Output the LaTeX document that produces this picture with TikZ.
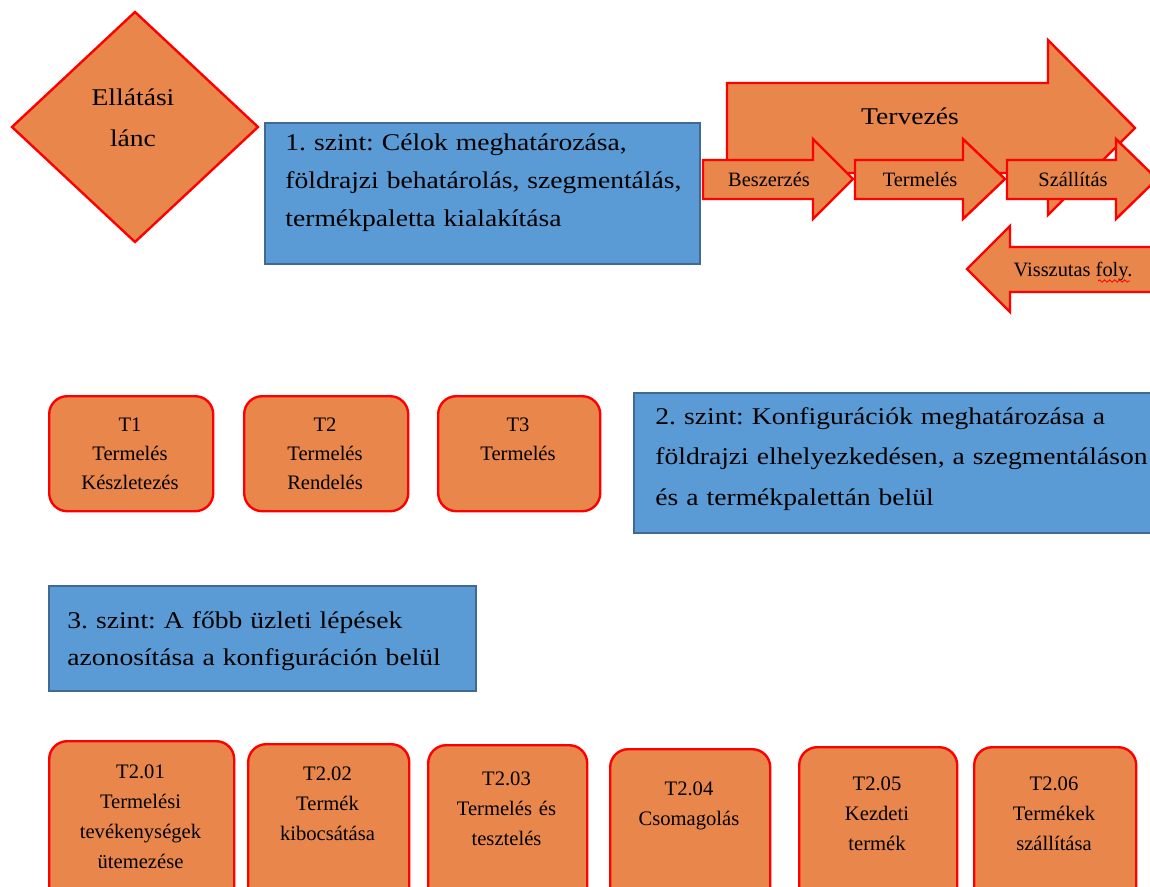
\documentclass[tikz,border=0pt]{standalone}
\usepackage{fontspec}
\setmainfont{Liberation Serif}
\newfontfamily\wideserif{Liberation Serif}[FakeStretch=1.15]
\usepackage{tikz}
\usetikzlibrary{decorations.pathmorphing}
\usepackage{xcolor}
\definecolor{boxorange}{RGB}{233,134,76}
\definecolor{boxred}{RGB}{255,0,0}
\definecolor{lvlblue}{RGB}{91,155,213}
\definecolor{lvledge}{RGB}{65,105,145}
\frenchspacing

\begin{document}
\begin{tikzpicture}[x=0.5pt, y=-0.5pt,
  tbox/.style={draw=boxred, fill=boxorange, line width=1.2pt, rounded corners=9pt, inner sep=0pt, anchor=north west},
  ttext/.style={font=\fontsize{10.3}{14.5}\selectfont, text width=90pt, align=center, anchor=base, inner sep=0pt},
  lvlbox/.style={draw=lvledge, fill=lvlblue, line width=0.8pt, inner sep=0pt, anchor=north west},
  lvltext/.style={font=\wideserif\fontsize{12}{19}\selectfont, align=left, anchor=base west, inner sep=0pt},
  flow/.style={draw=boxred, fill=boxorange, line width=1.2pt, line join=miter},
  flowtext/.style={font=\fontsize{10.2}{12}\selectfont, anchor=base, inner sep=0pt}]
  \useasboundingbox (0,0) rectangle (1150,887);
  \clip (0,0) rectangle (1150,887);

  % Supply chain diamond
  \draw[flow] (135,12) -- (258,127) -- (135,242) -- (12,127) -- cycle;
  \node[font=\wideserif\fontsize{12}{20.5}\selectfont, text width=100pt, align=center, anchor=base, inner sep=0pt] (chain) at (133,106) {Ellátási\\lánc};

  % Level 1
  \node[lvlbox, minimum width=217.5pt, minimum height=70.5pt] (lvl1) at (264,122) {};
  \node[lvltext, text width=210pt] (lvl1txt) at (285,151)
    {1. szint: Célok meghatározása,\\földrajzi behatárolás, szegmentálás,\\termékpaletta kialakítása};

  % Planning arrow
  \draw[flow] (727,83) -- (1048,83) -- (1048,40) -- (1135,128) -- (1048,215) -- (1048,173) -- (727,173) -- cycle;
  \node[font=\wideserif\fontsize{12}{14}\selectfont, anchor=base, inner sep=0pt] (plan) at (910,125) {Tervezés};

  % Process arrows
  \draw[flow] (703,160) -- (813,160) -- (813,139) -- (853,179) -- (813,219) -- (813,199) -- (703,199) -- cycle;
  \draw[flow] (855,160) -- (963,160) -- (963,139) -- (1005,179) -- (963,219) -- (963,199) -- (855,199) -- cycle;
  \draw[flow] (1007,160) -- (1116,160) -- (1116,139) -- (1157,179) -- (1116,219) -- (1116,199) -- (1007,199) -- cycle;
  \node[flowtext] (buy) at (769,187) {Beszerzés};
  \node[flowtext] (make) at (920,187) {Termelés};
  \node[flowtext] (ship) at (1073,187) {Szállítás};

  % Return flow
  \draw[flow] (1170,247) -- (1010,247) -- (1010,226) -- (967,269) -- (1010,312) -- (1010,292) -- (1170,292) -- cycle;
  \node[flowtext] (back) at (1073,277) {Visszutas foly.};
  \draw[boxred, line width=0.4pt, decorate, decoration={snake, amplitude=0.6pt, segment length=2.5pt}] (1098,281) -- (1130,281);

  % Level 2
  \node[lvlbox, minimum width=263.5pt, minimum height=70pt] (lvl2) at (633,392) {};
  \node[lvltext, text width=250pt, font=\wideserif\fontsize{12}{20.25}\selectfont] (lvl2txt) at (655,424)
    {2. szint: Konfigurációk meghatározása a\\földrajzi elhelyezkedésen, a szegmentáláson\\és a termékpalettán belül};

  \node[tbox, minimum width=82pt, minimum height=57.5pt] (t1) at (48,395) {};
  \node[tbox, minimum width=82pt, minimum height=57.5pt] (t2) at (243,395) {};
  \node[tbox, minimum width=81pt, minimum height=57.5pt] (t3) at (437,395) {};
  \node[ttext] (t1txt) at (130,431) {T1\\Termelés\\Készletezés};
  \node[ttext] (t2txt) at (325,431) {T2\\Termelés\\Rendelés};
  \node[ttext] (t3txt) at (518,431) {T3\\Termelés};

  % Level 3
  \node[lvlbox, minimum width=213.5pt, minimum height=52.5pt] (lvl3) at (48,585) {};
  \node[lvltext, text width=205pt, font=\wideserif\fontsize{12}{18.5}\selectfont] (lvl3txt) at (67,628)
    {3. szint: A főbb üzleti lépések\\azonosítása a konfiguráción belül};

  \node[tbox, minimum width=92.5pt, minimum height=90pt] (t201) at (48,740) {};
  \node[tbox, minimum width=80.5pt, minimum height=90pt] (t202) at (247,743) {};
  \node[tbox, minimum width=79.5pt, minimum height=90pt] (t203) at (427,744) {};
  \node[tbox, minimum width=80pt, minimum height=90pt] (t204) at (609,748) {};
  \node[tbox, minimum width=79pt, minimum height=90pt] (t205) at (798,746) {};
  \node[tbox, minimum width=81pt, minimum height=90pt] (t206) at (973,746) {};
  \node[ttext, font=\fontsize{10.3}{15}\selectfont] (t201txt) at (140.5,778) {T2.01\\Termelési\\tevékenységek\\ütemezése};
  \node[ttext, font=\fontsize{10.3}{15}\selectfont] (t202txt) at (327.5,780) {T2.02\\Termék\\kibocsátása};
  \node[ttext, font=\fontsize{10.3}{15}\selectfont] (t203txt) at (506.5,785) {T2.03\\Termelés és\\tesztelés};
  \node[ttext, font=\fontsize{10.3}{15}\selectfont] (t204txt) at (689,795) {T2.04\\Csomagolás};
  \node[ttext, font=\fontsize{10.3}{15}\selectfont] (t205txt) at (877,790) {T2.05\\Kezdeti\\termék};
  \node[ttext, font=\fontsize{10.3}{15}\selectfont] (t206txt) at (1054,790) {T2.06\\Termékek\\szállítása};
\end{tikzpicture}
\end{document}
